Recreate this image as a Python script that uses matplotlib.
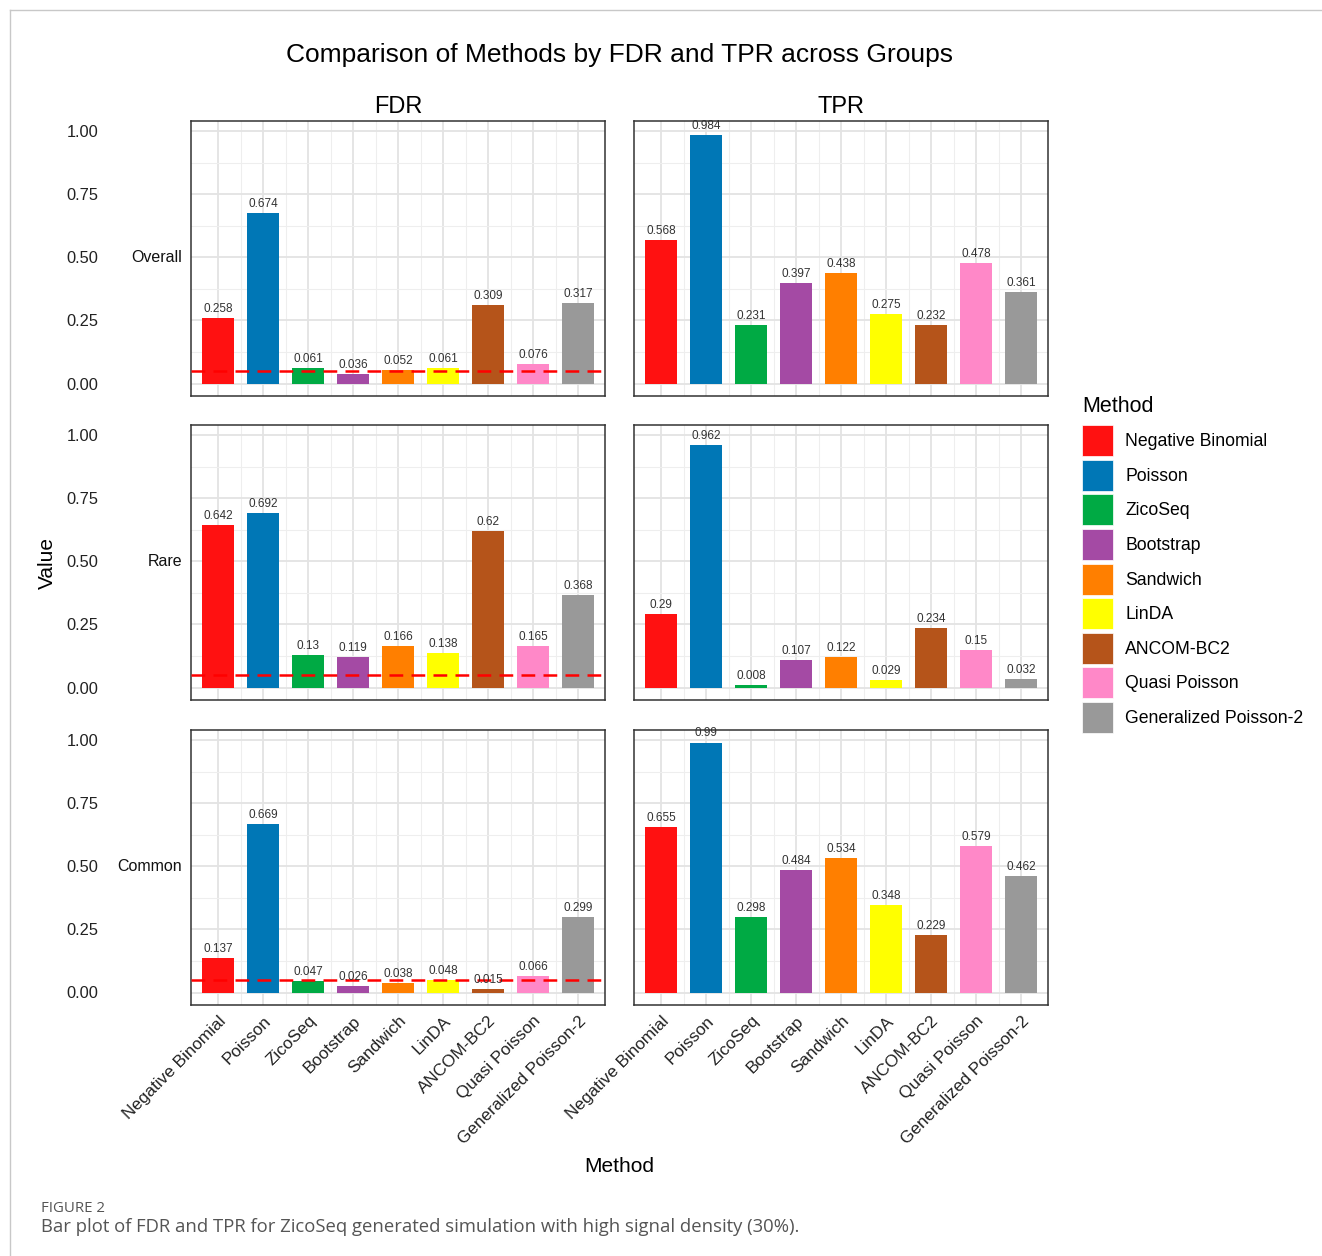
import matplotlib
matplotlib.use("Agg")
import matplotlib.pyplot as plt
import matplotlib.patches as mpatches
from matplotlib.lines import Line2D
import numpy as np

methods = ["Negative Binomial", "Poisson", "ZicoSeq", "Bootstrap", "Sandwich",
           "LinDA", "ANCOM-BC2", "Quasi Poisson", "Generalized Poisson-2"]
colors = ["#FF1111", "#0077B6", "#00AA44", "#A44AA4", "#FF7F00",
          "#FFFF00", "#B5541A", "#FF88C8", "#999999"]

groups = ["Overall", "Rare", "Common"]
metrics = ["FDR", "TPR"]

fdr_overall = [0.258, 0.674, 0.061, 0.036, 0.052, 0.061, 0.309, 0.076, 0.317]
tpr_overall = [0.568, 0.984, 0.231, 0.397, 0.438, 0.275, 0.232, 0.478, 0.361]
fdr_rare = [0.642, 0.692, 0.13, 0.119, 0.166, 0.138, 0.62, 0.165, 0.368]
tpr_rare = [0.29, 0.962, 0.008, 0.107, 0.122, 0.029, 0.234, 0.15, 0.032]
fdr_common = [0.137, 0.669, 0.047, 0.026, 0.038, 0.048, 0.015, 0.066, 0.299]
tpr_common = [0.655, 0.99, 0.298, 0.484, 0.534, 0.348, 0.229, 0.579, 0.462]

fdr_threshold = 0.05

values = {
    ("Overall", "FDR"): fdr_overall, ("Overall", "TPR"): tpr_overall,
    ("Rare", "FDR"): fdr_rare, ("Rare", "TPR"): tpr_rare,
    ("Common", "FDR"): fdr_common, ("Common", "TPR"): tpr_common,
}

plt.rcParams['font.family'] = ['Liberation Sans', 'DejaVu Sans']

W, H = 1322, 1256
fig = plt.figure(figsize=(W / 100, H / 100), dpi=100)


def px_axes(x0, y0, x1, y1):
    return fig.add_axes([x0 / W, 1 - y1 / H, (x1 - x0) / W, (y1 - y0) / H])


# outer frame of the figure page
fig.add_artist(Line2D([10 / W, 10 / W], [0, 1 - 10 / H], color="#c8c8c8", lw=1))
fig.add_artist(Line2D([10 / W, 1], [1 - 10 / H, 1 - 10 / H], color="#c8c8c8", lw=1))

col_x = [(191, 605), (634, 1048)]
row_y = [(121, 396), (425, 700), (730, 1005)]
x = np.arange(1, len(methods) + 1)

for r, g in enumerate(groups):
    for c, m in enumerate(metrics):
        ax = px_axes(col_x[c][0], row_y[r][0], col_x[c][1], row_y[r][1])
        vals = values[(g, m)]
        ax.bar(x, vals, width=0.7, color=colors, zorder=3)
        for xi, v in zip(x, vals):
            ax.text(xi, v + 0.012, f"{v:g}", ha="center", va="bottom",
                    fontsize=8.5, color="#333333", zorder=5)
        if m == "FDR":
            ax.axhline(fdr_threshold, color="#FF0000", lw=1.8,
                       ls=(0, (5.5, 3.3)), zorder=4)
        ax.set_xlim(0.4, 9.6)
        ax.set_ylim(-0.0495, 1.0395)
        ax.set_yticks([0, 0.25, 0.5, 0.75, 1.0])
        ax.set_yticks([0.125, 0.375, 0.625, 0.875], minor=True)
        ax.set_xticks(x)
        ax.set_xticks(x[:-1] + 0.5, minor=True)
        ax.grid(True, which="major", color="#e3e3e3", lw=1.3, zorder=0)
        ax.grid(True, which="minor", color="#eeeeee", lw=0.8, zorder=0)
        ax.set_axisbelow(True)
        for s in ax.spines.values():
            s.set_color("#333333")
            s.set_linewidth(1.1)
        ax.tick_params(which="both", length=0)
        if c == 0:
            ax.set_yticklabels(["0.00", "0.25", "0.50", "0.75", "1.00"],
                               fontsize=11.8, color="#222222")
            ax.tick_params(axis="y", pad=93 * 0.72)
            ax.text(-0.022, 0.5, g, transform=ax.get_yaxis_transform(),
                    ha="right", va="center", fontsize=11.5, color="#111111")
        else:
            ax.set_yticklabels([])
        if r == 2:
            ax.set_xticklabels(methods, rotation=45, ha="right", va="top",
                               rotation_mode="anchor", fontsize=12.3, color="#222222")
            ax.tick_params(axis="x", pad=6)
        else:
            ax.set_xticklabels([])
        if r == 0:
            ax.set_title(m, fontsize=17, pad=6)

fig.text(620 / W, 1 - 55 / H, "Comparison of Methods by FDR and TPR across Groups",
         ha="center", va="center", fontsize=19)
fig.text(47 / W, 1 - 563 / H, "Value", rotation=90, ha="center", va="center",
         fontsize=15)
fig.text(619 / W, 1 - 1166 / H, "Method", ha="center", va="center", fontsize=15)

handles = [mpatches.Patch(facecolor=col, edgecolor="white", lw=0.5, label=lab)
           for col, lab in zip(colors, methods)]
leg = fig.legend(handles=handles, loc="upper left",
                 bbox_to_anchor=(1082 / W, 1 - 396 / H), frameon=False,
                 fontsize=12.7, title="Method", title_fontsize=15.5,
                 alignment="left", handlelength=1.76, handleheight=2.33,
                 labelspacing=0.2, handletextpad=0.68, borderpad=0.0,
                 borderaxespad=0)
# a bit more room between legend title and the first key
leg._legend_box.sep = 6

fig.text(41 / W, 1 - 1208 / H, "FIGURE 2", ha="left", va="center",
         fontsize=10.8, color="#555555", family="Open Sans")
fig.text(41 / W, 1 - 1227 / H,
         "Bar plot of FDR and TPR for ZicoSeq generated simulation with high signal density (30%).",
         ha="left", va="center", fontsize=13.3, color="#555555", family="Open Sans")

fig.savefig("out.png", dpi=100)
